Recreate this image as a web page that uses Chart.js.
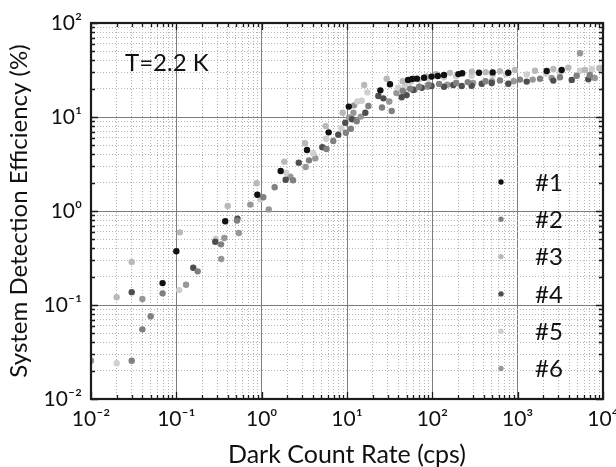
<!DOCTYPE html>
<html>
<head>
<meta charset="utf-8">
<script src="https://cdn.jsdelivr.net/npm/chart.js@4.4.1/dist/chart.umd.min.js"></script>
<style>
  html, body { margin: 0; padding: 0; background: #fff; }
</style>
</head>
<body>
<canvas id="sde" width="616" height="467"></canvas>
<script>
// axis decades (exponents of ten) used for the tick labels
var xTickExps = [-2, -1, 0, 1, 2, 3, 4];
var yTickExps = [-2, -1, 0, 1, 2];

var seriesNames = ['#1', '#2', '#3', '#4', '#5', '#6'];
var seriesColors = ['#111111', '#808080', '#b9b9b9', '#4e4e4e', '#cfcfcf', '#979797'];

// [dark count rate (cps), system detection efficiency (%)]
var dev1 = [[0.069,0.171],[0.1,0.373],[0.374,0.777],[0.89,1.49],[1.67,2.66],[3.4,4.46],[6.1,6.87],
  [10.5,12.9],[24.6,19.2],[31.9,22.3],[52,24.8],[58,25.4],[66,25.6],[80,26.2],[98,26.9],[116,27.3],
  [137,28],[202,28.6],[224,29.2],[352,29.6],[509,29.8],[776,29.6],[2190,30.9],[3280,31.6]];
var dev2 = [[0.03,0.0255],[0.04,0.0551],[0.05,0.0758],[0.069,0.133],[0.178,0.228],[0.334,0.442],
  [0.514,0.79],[1.045,1.40],[1.42,1.79],[2.33,2.12],[3.59,3.46],[5.75,4.57],[6.9,5.56],[9.7,6.8],
  [11.1,7.5],[13,9.0],[17.8,13.1],[25.7,12.6],[33.4,11.6],[45,19],[55,20],[70,21],[90,22],[120,22.5],
  [190,23],[260,23.5],[420,24],[621,24.5],[1064,25],[1828,25.5],[3134,26.5],[4918,27.5],[7000,28]];
var dev3 = [[0.02,0.121],[0.03,0.287],[0.11,0.593],[0.4,1.13],[0.875,1.97],[1.84,3.35],[3.22,5.25],
  [5.63,8.0],[8.9,11.1],[15.9,21.9],[29.2,25.5],[45,24],[60,25.5],[85,27],[110,28.5],[161,29.5],
  [290,30.4],[422,30],[621,30.8],[931,31.6],[1597,31],[2618,32.5],[3926,33.5],[6152,31.6],[9055,33]];
var dev4 = [[0.03,0.137],[0.158,0.249],[0.286,0.47],[0.52,0.83],[1.91,2.15],[2.72,3.27],[5.14,4.76],
  [7.9,6.49],[9.55,8.7],[11.5,9.46],[16.4,11.1],[23.3,16.7],[26.7,15.8],[43.7,16.2],[50,17.1],
  [59.8,19.4],[75,20.5],[98,21.4],[137,21],[176,21.9],[221,21.4],[289,21.5],[379,22.6],[496,23],
  [776,22.6],[1276,23.8],[2617,24.4],[4300,24.8],[6730,25.2]];
var dev5 = [[0.02,0.024],[0.108,0.144],[0.29,0.507],[0.964,1.33],[1.94,2.55],[4.03,4.11],[5.7,5.88],
  [8.6,7.59],[13.2,14.6],[14.9,14.9],[17.3,18.3],[40,20.5],[48,22],[55,23.5],[70,25],[90,26],
  [137,26.5],[190,27.2],[289,27.5],[509,28],[730,28.5],[1276,28.3],[2148,29],[3134,30],[5376,31],
  [7376,32.5],[9222,33.5]];
var dev6 = [[0.01,0.0255],[0.04,0.116],[0.13,0.164],[0.336,0.309],[0.365,0.516],[0.54,0.583],
  [0.736,1.17],[1.21,1.04],[2.17,2.32],[3.28,2.94],[4.25,3.64],[10.6,9.9],[11.9,11.1],[12.1,13.3],
  [14.5,10.1],[31.3,14.6],[38,18],[46,18.5],[62,19.5],[88,21],[150,22],[300,23],[500,24],[900,24],
  [1500,25],[2500,26],[5376,47.6],[8000,26]];
var allSeries = [dev1, dev2, dev3, dev4, dev5, dev6];

var FONT = "Lato, 'DejaVu Sans', sans-serif";
var SUP = { '-': '\u207b', '0': '\u2070', '1': '\u00b9', '2': '\u00b2', '3': '\u00b3', '4': '\u2074' };

function powLabel(v) {
  var e = String(Math.round(Math.log10(v)));
  return '10' + e.split('').map(function(c) { return SUP[c]; }).join('');
}
function decadeTicks(exps) {
  return exps.map(function(e) { return { value: Math.pow(10, e) }; });
}
function minorTicks(exps) {
  var t = [];
  for (var i = 0; i < exps.length - 1; i++) {
    for (var k = 2; k <= 9; k++) t.push({ value: k * Math.pow(10, exps[i]) });
  }
  return t;
}
// keep the plot box where the figure has it, whatever the label overhang
function noPad(s) {
  s.paddingLeft = 0; s.paddingRight = 0; s.paddingTop = 0; s.paddingBottom = 0;
}

var datasets = allSeries.map(function(pts, i) {
  return {
    label: seriesNames[i],
    data: pts.map(function(p) { return { x: p[0], y: p[1] }; }),
    backgroundColor: seriesColors[i],
    borderWidth: 0,
    pointRadius: 3.2,
    pointHoverRadius: 3.2
  };
});

// box, inward ticks, inner legend and the temperature note
var decor = {
  id: 'decor',
  afterDatasetsDraw: function(chart) {
    var ctx = chart.ctx, a = chart.chartArea;
    var xs = chart.scales.x, ys = chart.scales.y;
    ctx.save();
    ctx.strokeStyle = '#1b1b1b';
    ctx.lineWidth = 1.3;
    function tickX(v, len) {
      var p = Math.round(xs.getPixelForValue(v)) + 0.5;
      ctx.beginPath();
      ctx.moveTo(p, a.bottom); ctx.lineTo(p, a.bottom - len);
      ctx.moveTo(p, a.top); ctx.lineTo(p, a.top + len);
      ctx.stroke();
    }
    function tickY(v, len) {
      var p = Math.round(ys.getPixelForValue(v)) + 0.5;
      ctx.beginPath();
      ctx.moveTo(a.left, p); ctx.lineTo(a.left + len, p);
      ctx.moveTo(a.right, p); ctx.lineTo(a.right - len, p);
      ctx.stroke();
    }
    decadeTicks(xTickExps).forEach(function(t) { tickX(t.value, 7); });
    minorTicks(xTickExps).forEach(function(t) { tickX(t.value, 4); });
    decadeTicks(yTickExps).forEach(function(t) { tickY(t.value, 7); });
    minorTicks(yTickExps).forEach(function(t) { tickY(t.value, 4); });

    ctx.lineWidth = 2.2;
    ctx.strokeRect(a.left, a.top, a.right - a.left, a.bottom - a.top);

    // legend inside the plot
    ctx.font = '24px ' + FONT;
    ctx.textBaseline = 'middle';
    ctx.textAlign = 'left';
    chart.data.datasets.forEach(function(ds, i) {
      var y = a.top + 159 + i * 37.3;
      ctx.fillStyle = ds.backgroundColor;
      ctx.beginPath();
      ctx.arc(a.right - 102, y, 2.7, 0, Math.PI * 2);
      ctx.fill();
      ctx.fillStyle = '#111';
      ctx.fillText(ds.label, a.right - 68, y + 1);
    });

    ctx.textBaseline = 'alphabetic';
    ctx.fillText('T=2.2 K', a.left + 34, a.top + 48);
    ctx.restore();
  }
};

new Chart(document.getElementById('sde'), {
  type: 'scatter',
  data: { datasets: datasets },
  options: {
    responsive: false,
    animation: false,
    events: [],
    layout: { padding: { left: 0, right: 13, top: 23, bottom: 0 } },
    plugins: { legend: { display: false }, tooltip: { enabled: false } },
    scales: {
      x: {
        type: 'logarithmic', position: 'bottom', min: 0.01, max: 10000,
        afterBuildTicks: function(s) { s.ticks = decadeTicks(xTickExps); },
        afterFit: function(s) { s.height = 68; noPad(s); },
        grid: { color: '#7d7d7d', lineWidth: 1, drawTicks: false },
        border: { display: false },
        ticks: {
          autoSkip: false, maxRotation: 0, padding: 8, color: '#111',
          font: { family: FONT, size: 21 },
          callback: function(v) { return powLabel(v); }
        },
        title: {
          display: true, text: 'Dark Count Rate (cps)', color: '#111',
          font: { family: FONT, size: 25, lineHeight: 1 }, padding: 0
        }
      },
      xMinor: {
        type: 'logarithmic', position: 'bottom', min: 0.01, max: 10000,
        afterBuildTicks: function(s) { s.ticks = minorTicks(xTickExps); },
        afterFit: function(s) { s.height = 0; noPad(s); },
        grid: { color: '#b4b4b4', lineWidth: 1, drawTicks: false },
        border: { display: false, dash: [1, 2] },
        ticks: { display: false }
      },
      y: {
        type: 'logarithmic', position: 'left', min: 0.01, max: 100,
        afterBuildTicks: function(s) { s.ticks = decadeTicks(yTickExps); },
        afterFit: function(s) { s.width = 91; noPad(s); },
        grid: { color: '#7d7d7d', lineWidth: 1, drawTicks: false },
        border: { display: false },
        ticks: {
          autoSkip: false, padding: 9, color: '#111',
          font: { family: FONT, size: 21 },
          callback: function(v) { return powLabel(v); }
        },
        title: {
          display: true, text: 'System Detection Efficiency (%)', color: '#111',
          font: { family: FONT, size: 24, lineHeight: 1.2 }, padding: { top: 5, bottom: 0 }
        }
      },
      yMinor: {
        type: 'logarithmic', position: 'left', min: 0.01, max: 100,
        afterBuildTicks: function(s) { s.ticks = minorTicks(yTickExps); },
        afterFit: function(s) { s.width = 0; noPad(s); },
        grid: { color: '#b4b4b4', lineWidth: 1, drawTicks: false },
        border: { display: false, dash: [1, 2] },
        ticks: { display: false }
      }
    }
  },
  plugins: [decor]
});
</script>
</body>
</html>
